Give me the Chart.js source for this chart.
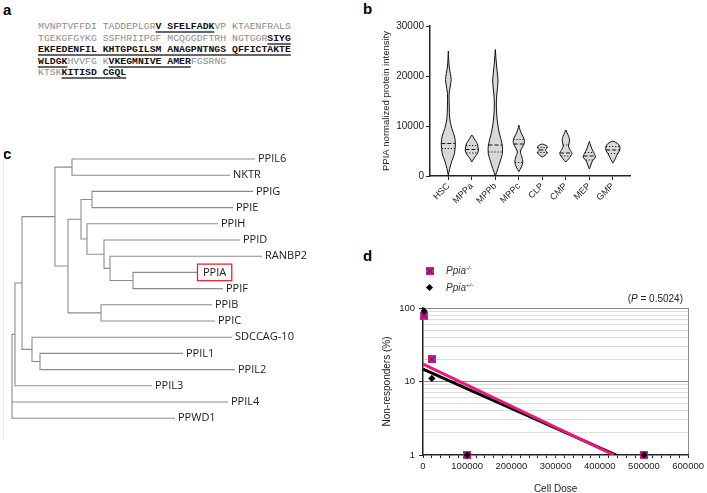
<!DOCTYPE html>
<html>
<head>
<meta charset="utf-8">
<script src="https://cdn.jsdelivr.net/npm/chart.js@4.4.1/dist/chart.umd.min.js"></script>
<style>
  body { margin: 0; width: 707px; height: 493px; background: #fff; position: relative; overflow: hidden; font-family: 'Liberation Sans', Arial, sans-serif; }
  .lbl { position: absolute; font-weight: bold; font-size: 15px; color: #000; }
  #seq { position: absolute; left: 38px; top: 21px; font-family: 'Liberation Mono', 'Courier New', monospace; font-size: 9.8px; line-height: 11.6px; color: #8c8c8c; white-space: pre; }
  #seq b { color: #111; text-decoration: underline; text-decoration-thickness: 1.5px; text-underline-offset: 2px; text-decoration-color: #666; }
  canvas { position: absolute; }
  .leg { position: absolute; font-style: italic; font-size: 10px; color: #333; }
  .leg sup { font-size: 6px; }
  #pval { position: absolute; font-size: 10px; color: #222; right: 24px; top: 293px; }
  #treeEdge { position: absolute; left: 3px; top: 147px; width: 1px; height: 293px; background: #ececec; }
</style>
</head>
<body>
<div class="lbl" style="left:3px;top:1px">a</div>
<div class="lbl" style="left:363px;top:0px">b</div>
<div class="lbl" style="left:3px;top:145px">c</div>
<div class="lbl" style="left:363px;top:247px">d</div>

<div id="seq">MVNPTVFFDI TADDEPLGR<b>V SFELFADK</b>VP KTAENFRALS
TGEKGFGYKG SSFHRIIPGF MCQGGDFTRH NGTGGR<b>SIYG</b>
<b>EKFEDENFIL KHTGPGILSM ANAGPNTNGS QFFICTAKTE</b>
<b>WLDGK</b>HVVFG K<b>VKEGMNIVE AMER</b>FGSRNG
KTSK<b>KITISD CGQL</b></div>

<div id="treeEdge"></div>
<canvas id="violin" width="290" height="230" style="left:360px;top:0px"></canvas>
<canvas id="tree" width="360" height="300" style="left:0px;top:140px"></canvas>
<canvas id="ld" width="347" height="260" style="left:360px;top:240px"></canvas>

<img id="koIcon" style="position:absolute;left:426px;top:267px;width:8px;height:8px">
<div class="leg" style="left:446px;top:265px">Ppia<sup>-/-</sup></div>
<div style="position:absolute;left:427px;top:285px;width:5px;height:5px;background:#000;transform:rotate(45deg)"></div>
<div class="leg" style="left:446px;top:282px">Ppia<sup>+/-</sup></div>
<div id="pval">(<i>P</i> = 0.5024)</div>

<script>
// ---- panel b: PPIA intensity per cell type ----
const cellTypes = ['HSC', 'MPPa', 'MPPb', 'MPPc', 'CLP', 'CMP', 'MEP', 'GMP'];
// violin outlines, [intensity, half width as fraction of category step]
const hscShape = [[100, 0], [1500, .06], [3000, .15], [4500, .26], [6500, .30], [8000, .26], [9500, .15], [11500, .06], [14000, .04], [16500, .035], [18000, .085], [19300, .12], [20500, .085], [22000, .035], [25000, 0]];
const mppaShape = [[2800, 0], [3500, .085], [4300, .21], [5000, .28], [5800, .26], [6500, .23], [7200, .13], [7800, .06], [8200, 0]];
const mppbShape = [[0, 0], [1500, .11], [3000, .21], [4500, .30], [6000, .30], [7500, .23], [9000, .15], [11000, .085], [13000, .05], [15000, .045], [17000, .075], [19000, .115], [21000, .075], [23000, .035], [25300, 0]];
const mppcShape = [[900, 0], [1800, .11], [2800, .17], [3800, .13], [4800, .065], [5600, .13], [6500, .23], [7300, .23], [8300, .13], [9300, .045], [10200, 0]];
const clpShape = [[3800, 0], [4200, .13], [4700, .21], [5200, .13], [5700, .21], [6100, .17], [6400, 0]];
const cmpShape = [[2800, 0], [3500, .13], [4500, .26], [5300, .17], [6000, .11], [6800, .15], [7500, .15], [8300, .085], [9200, 0]];
const mepShape = [[1400, 0], [2200, .065], [3000, .13], [3800, .26], [4500, .21], [5200, .13], [6000, .065], [6900, 0]];
const gmpShape = [[2600, 0], [3300, .085], [4200, .17], [5000, .28], [5800, .30], [6500, .21], [7000, 0]];
const medians = [6500, 5300, 6200, 6400, 5200, 4600, 4000, 5200];
const lowerQuartiles = [5500, 4600, 4800, 2700, 4700, 4000, 3200, 4500];
const upperQuartiles = [null, 6100, null, 7300, 5700, 6200, 4700, 5900];
const intensityTicks = [0, 10000, 20000, 30000];

// ---- panel c: cyclophilin tree ----
const leafNames = ['PPIL6', 'NKTR', 'PPIG', 'PPIE', 'PPIH', 'PPID', 'RANBP2', 'PPIA', 'PPIF', 'PPIB', 'PPIC', 'SDCCAG-10', 'PPIL1', 'PPIL2', 'PPIL3', 'PPIL4', 'PPWD1'];
const leafDepth = [255, 230, 253, 233, 218, 240, 262, 197, 223, 212, 215, 232, 183, 235, 152, 228, 175];
const nodeDepth = [72, 92, 133, 110, 104, 87, 81, 101, 68, 55, 40, 32, 22, 15, 12];
const nodeKids = [[0, 1], [2, 3], [7, 8], [6, 'n2'], [5, 'n3'], [4, 'n4'], ['n1', 'n5'], [9, 10], ['n6', 'n7'], ['n0', 'n8'], [12, 13], [11, 'n10'], ['n9', 'n11'], ['n12', 14], ['n13', 15, 16]];

// ---- panel d: limiting dilution ----
const doseTicks = [0, 100000, 200000, 300000, 400000, 500000, 600000];
const responderTicks = [1, 2, 3, 4, 5, 6, 7, 8, 9, 10, 20, 30, 40, 50, 60, 70, 80, 90, 100];
const koDose = [2500, 20000, 100000, 500000];
const koNonResp = [79, 20, 1, 1];
const hetDose = [2500, 20000, 100000, 500000];
const hetNonResp = [91, 11, 1, 1];
const koFitDose = [0, 432000];
const koFit = [17.3, 1];
const hetFitDose = [0, 437000];
const hetFit = [14.7, 1];

const PINK = '#e8197a';
Chart.defaults.font.family = "'Liberation Sans', Arial, sans-serif";
Chart.defaults.color = '#222';

function halfWidthAt(shape, v) {
    for (let k = 1; k < shape.length; k++) {
        const [v0, w0] = shape[k - 1], [v1, w1] = shape[k];
        if (v <= v1) return w0 + (w1 - w0) * (v - v0) / (v1 - v0);
    }
    return 0;
}

// violin chart
const shapes = [hscShape, mppaShape, mppbShape, mppcShape, clpShape, cmpShape, mepShape, gmpShape];
const violinSets = [];
shapes.forEach((shape, i) => {
    const left = shape.map(([v, w]) => ({x: i - w, y: v}));
    const right = shape.slice().reverse().map(([v, w]) => ({x: i + w, y: v}));
    violinSets.push({
        data: left.concat(right), showLine: true, fill: 'shape', tension: 0.3,
        backgroundColor: '#d9d9d9', borderColor: '#111', borderWidth: 1, pointRadius: 0, order: 2
    });
    const marks = [[medians[i], [4, 2]], [lowerQuartiles[i], [1.2, 1.8]], [upperQuartiles[i], [1.2, 1.8]]];
    marks.forEach(([v, dash]) => {
        if (v === null) return;
        const w = halfWidthAt(shape, v);
        violinSets.push({
            data: [{x: i - w, y: v}, {x: i + w, y: v}], showLine: true, borderDash: dash,
            borderColor: '#111', borderWidth: 1, pointRadius: 0, order: 1
        });
    });
});

new Chart(document.getElementById('violin'), {
    type: 'scatter',
    data: {datasets: violinSets},
    options: {
        responsive: false, animation: false, devicePixelRatio: 1, events: [],
        layout: {padding: {top: 26, right: 20, left: 0, bottom: 0}},
        plugins: {legend: {display: false}, tooltip: {enabled: false}},
        scales: {
            x: {
                type: 'linear', min: -0.78, max: 7.73,
                afterBuildTicks: s => { s.ticks = cellTypes.map((c, i) => ({value: i})); },
                afterFit: s => { s.height = 54; },
                ticks: {callback: v => cellTypes[v], minRotation: 45, maxRotation: 45, autoSkip: false, font: {size: 9}, padding: 1},
                grid: {drawOnChartArea: false, tickLength: 4, tickColor: '#222'},
                border: {color: '#222', width: 1.5}
            },
            y: {
                min: 0, max: 30000,
                afterBuildTicks: s => { s.ticks = intensityTicks.map(v => ({value: v})); },
                afterFit: s => { s.width = 70; },
                ticks: {callback: v => String(v), font: {size: 10}, padding: 2},
                grid: {drawOnChartArea: false, tickLength: 4, tickColor: '#222'},
                border: {color: '#222', width: 1.5},
                title: {display: true, text: 'PPIA normalized protein intensity', font: {size: 9.5}, padding: {top: 21, bottom: 0}}
            }
        }
    }
});

// tree chart
const leafY = leafNames.map((n, i) => i);
const nodeY = [];
const depthOf = k => typeof k === 'number' ? leafDepth[k] : nodeDepth[+k.slice(1)];
const yOf = k => typeof k === 'number' ? leafY[k] : nodeY[+k.slice(1)];
const treeSets = [];
nodeKids.forEach((kids, n) => {
    const d = nodeDepth[n];
    const first = kids[0], last = kids[kids.length - 1];
    nodeY[n] = (yOf(first) + yOf(last)) / 2;
    treeSets.push({data: [
        {x: depthOf(first), y: yOf(first)}, {x: d, y: yOf(first)},
        {x: d, y: yOf(last)}, {x: depthOf(last), y: yOf(last)}
    ]});
    kids.slice(1, -1).forEach(k => treeSets.push({data: [{x: d, y: yOf(k)}, {x: depthOf(k), y: yOf(k)}]}));
});
treeSets.forEach(s => Object.assign(s, {showLine: true, borderColor: '#8c8c8c', borderWidth: 1.1, pointRadius: 0}));

const leafLabels = {
    id: 'leafLabels',
    afterDatasetsDraw(chart) {
        const {ctx, scales: {x, y}} = chart;
        ctx.save();
        ctx.font = "11px 'Open Sans'";
        ctx.fillStyle = '#1a1a1a';
        ctx.textBaseline = 'middle';
        leafNames.forEach((name, i) => {
            const px = x.getPixelForValue(leafDepth[i]);
            const py = y.getPixelForValue(i);
            const pad = name === 'PPIA' ? 6 : 3;
            ctx.fillText(name, px + pad, py);
            if (name === 'PPIA') {
                const w = ctx.measureText(name).width + 11;
                ctx.strokeStyle = '#e8262d';
                ctx.lineWidth = 1.3;
                ctx.strokeRect(px + 0.5, py - 8.3, w, 16.6);
            }
        });
        ctx.restore();
    }
};

new Chart(document.getElementById('tree'), {
    type: 'scatter',
    data: {datasets: treeSets},
    options: {
        responsive: false, animation: false, devicePixelRatio: 1, events: [],
        layout: {padding: 0},
        plugins: {legend: {display: false}, tooltip: {enabled: false}},
        scales: {
            x: {display: false, min: 0, max: 360},
            y: {display: false, reverse: true, min: -19 / 16.2, max: 281 / 16.2}
        }
    },
    plugins: [leafLabels]
});

// limiting dilution chart
const koMark = document.createElement('canvas');
koMark.width = 8; koMark.height = 8;
const km = koMark.getContext('2d');
km.fillStyle = PINK;
km.fillRect(0, 0, 8, 8);
km.strokeStyle = '#2b2f8f';
km.lineWidth = 1.2;
km.beginPath();
km.moveTo(1.2, 1.2); km.lineTo(6.8, 6.8);
km.moveTo(6.8, 1.2); km.lineTo(1.2, 6.8);
km.stroke();
document.getElementById('koIcon').src = koMark.toDataURL();

const pairs = (xs, ys) => xs.map((x, i) => ({x: x, y: ys[i]}));
const labelled = [1, 10, 100];

new Chart(document.getElementById('ld'), {
    type: 'scatter',
    data: {
        datasets: [
            {data: pairs(hetDose, hetNonResp), pointStyle: 'rectRot', pointRadius: 3.6, backgroundColor: '#000', borderColor: '#000', borderWidth: 0, order: 0, clip: false},
            {data: pairs(koDose, koNonResp), pointStyle: koMark, order: 1, clip: false},
            {data: pairs(koFitDose, koFit), showLine: true, borderColor: PINK, borderWidth: 3, pointRadius: 0, order: 2},
            {data: pairs(hetFitDose, hetFit), showLine: true, borderColor: '#000', borderWidth: 3, pointRadius: 0, order: 3}
        ]
    },
    options: {
        responsive: false, animation: false, devicePixelRatio: 1, events: [],
        layout: {padding: {top: 68, right: 18, left: 0, bottom: 0}},
        plugins: {legend: {display: false}, tooltip: {enabled: false}},
        scales: {
            x: {
                type: 'linear', min: 0, max: 600000,
                afterBuildTicks: s => {
                    const t = [];
                    for (let v = 0; v <= 600000; v += 20000) t.push({value: v});
                    s.ticks = t;
                },
                afterFit: s => { s.height = 45; },
                ticks: {callback: v => doseTicks.includes(v) ? String(v) : '', autoSkip: false, maxRotation: 0, font: {size: 9.5}, padding: 3},
                grid: {
                    color: c => c.tick && c.tick.value === 600000 ? '#8c8c8c' : 'rgba(0,0,0,0)',
                    tickColor: '#222', tickLength: 3
                },
                border: {color: '#222', width: 1.5},
                title: {display: true, text: 'Cell Dose', font: {size: 10}, padding: {top: 0, bottom: 5}}
            },
            y: {
                type: 'logarithmic', min: 1, max: 100,
                afterBuildTicks: s => { s.ticks = responderTicks.map(v => ({value: v})); },
                afterFit: s => { s.width = 63; },
                ticks: {callback: v => labelled.includes(v) ? String(v) : '', autoSkip: false, font: {size: 9.5}, padding: 4},
                grid: {
                    color: c => !c.tick ? '#ddd' : (c.tick.value === 1 ? 'rgba(0,0,0,0)' : (labelled.includes(c.tick.value) ? '#8c8c8c' : '#dcdcdc')),
                    tickColor: c => c.tick && labelled.includes(c.tick.value) ? '#222' : 'rgba(0,0,0,0)',
                    tickLength: 4
                },
                border: {color: '#222', width: 1.5},
                title: {display: true, text: 'Non-responders (%)', font: {size: 10}, padding: {top: 21, bottom: 0}}
            }
        }
    }
});
</script>
</body>
</html>
